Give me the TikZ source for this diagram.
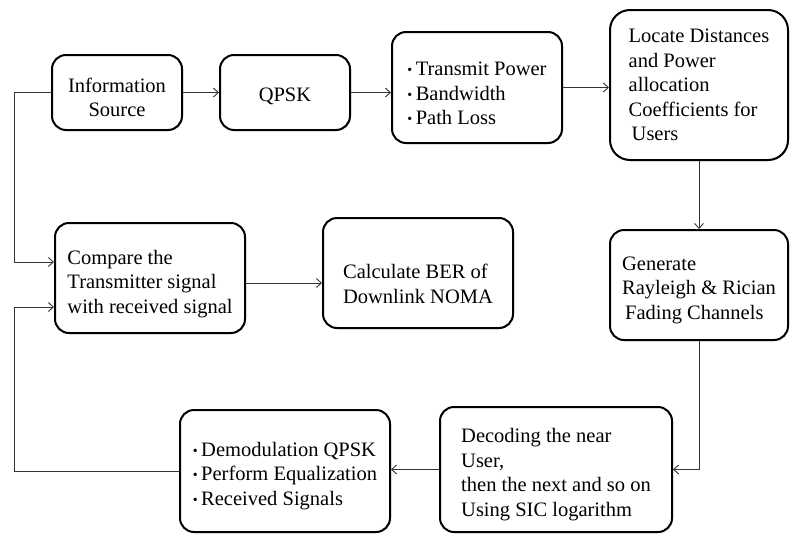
\documentclass[tikz,border=0pt]{standalone}
\usepackage{fontspec}
\setmainfont{Liberation Serif}
\usetikzlibrary{arrows.meta}
\usetikzlibrary{positioning}
\usetikzlibrary{shadows}
\tikzset{
  ->,
  >={Straight Barb[length=5pt, width=9pt]},
  node distance = 36pt,
  block/.style = {draw, line width=2pt, rounded corners=14pt, fill=white,
    align=left, inner sep=4pt,
    drop shadow={opacity=0.3, shadow xshift=1pt, shadow yshift=-1pt},
    font=\fontsize{20.5}{24.5}\selectfont},
  link/.style = {draw=black!80, line width=0.9pt},
}
\newcommand{\bul}{\raisebox{1pt}{\fontsize{14}{14}\selectfont\textbullet}\,}
\newcommand{\tp}[1]{\rule{0pt}{#1}}

\begin{document}
\begin{tikzpicture}[x=1pt, y=-1pt]
    \useasboundingbox (0,0) rectangle (790,533);
    \node [block, align=center, minimum width=130pt, minimum height=75pt] (info) at (117,92.5) {\tp{24pt}Information\\Source};
    \node [block, minimum width=130pt, minimum height=75pt, right = of info] (qpsk) {\tp{22pt}QPSK};
    \node [block, minimum width=170pt, minimum height=111pt] (power) at (477,87.5) {\tp{26pt}\bul Transmit Power\\\bul Bandwidth\\\bul Path Loss};
    \node [block, rounded corners=20pt, minimum width=178pt, minimum height=150pt] (dist) at (699,85) {Locate Distances\\and Power\\allocation\\Coefficients for\\\hspace*{3pt}Users};
    \node [block, minimum width=178pt, minimum height=110pt] (chan) at (699,285) {\tp{24pt}Generate\\Rayleigh \& Rician\\\hspace*{3pt}Fading Channels};
    \node [block, minimum width=232pt, minimum height=125pt] (sic) at (556,469.5) {\tp{24pt}Decoding the near\\User,\\then the next and so on\\Using SIC logarithm};
    \node [block, minimum width=210pt, minimum height=122pt] (demod) at (285,471) {\tp{24pt}\bul Demodulation QPSK\\\bul Perform Equalization\\\bul Received Signals};
    \node [block, minimum width=190pt, minimum height=110pt] (cmp) at (150,278) {\tp{26pt}Compare the\\Transmitter signal\\with received signal};
    \node [block, minimum width=190pt, minimum height=110pt] (ber) at (418,273) {\tp{36pt}Calculate BER of\\Downlink NOMA};
    \coordinate (bend) at (14,0);
    \coordinate (in1) at ([yshift=16pt]cmp.west);
    \coordinate (in2) at ([yshift=-29pt]cmp.west);
    \draw [link] (info) edge (qpsk);
    \draw [link] (qpsk.east) -- (qpsk.east -| power.west);
    \draw [link] (power.east) -- (power.east -| dist.west);
    \draw [link] (dist) edge (chan);
    \draw [link] (chan.south) |- (sic.east);
    \draw [link] (sic.west) -- (sic.west -| demod.east);
    \draw [link] (demod.west) -| (bend |- in2) -- (in2);
    \draw [link] (info.west) -| (bend |- in1) -- (in1);
    \draw [link] ([yshift=-5pt]cmp.east) -- ([yshift=-5pt]cmp.east -| ber.west);
  \end{tikzpicture}
\end{document}
